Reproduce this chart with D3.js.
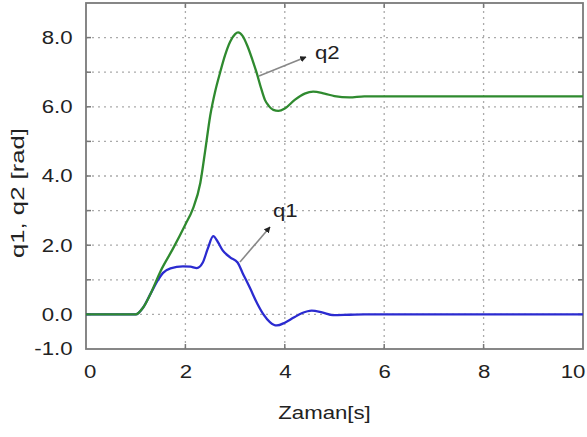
<!DOCTYPE html>
<html>
  <head>
    <meta charset="utf-8">
    <title>q1, q2</title>
    <style>
      body { margin: 0; background: #fff; }
      text { font-family: "Liberation Sans", Arial, sans-serif; fill: #222; }
      .grid line { stroke: #aaa; stroke-width: 1.3px; stroke-dasharray: 2,4; }
      .tick-mark { stroke: #777; stroke-width: 1.5px; }
    </style>
    <script src="https://cdn.jsdelivr.net/npm/d3@7"></script>
  </head>
  <body>
  <script type="text/javascript">
    // values
    var xTicks = [0, 2, 4, 6, 8, 10];
    var yTicks = [-1, 0, 2, 4, 6, 8];
    var yLabels = ["-1.0", "0.0", "2.0", "4.0", "6.0", "8.0"];
    var yGrid = [0, 1, 2, 3, 4, 5, 6, 7, 8];
    var xGrid = [2, 4, 6, 8];

    var q2Time = [0, 1.0, 1.15, 1.3, 1.5, 1.75, 2.0, 2.15, 2.3, 2.4, 2.5, 2.6, 2.7, 2.8, 2.9, 3.0, 3.06,
                  3.15, 3.25, 3.35, 3.43, 3.52, 3.6, 3.68, 3.77, 3.87, 4.0, 4.2, 4.4, 4.57, 4.8, 5.0, 5.3, 5.6, 6.0, 10];
    var q2Vals = [0, 0, 0.2, 0.6, 1.25, 1.9, 2.6, 3.05, 3.8, 4.75, 5.75, 6.45, 7.0, 7.5, 7.88, 8.1, 8.15,
                  8.05, 7.75, 7.35, 7.0, 6.55, 6.2, 6.02, 5.91, 5.88, 5.95, 6.2, 6.38, 6.44, 6.38, 6.31, 6.27, 6.3, 6.3, 6.3];

    var q1Time = [0, 1.0, 1.15, 1.3, 1.45, 1.55, 1.7, 1.95, 2.1, 2.23, 2.35, 2.45, 2.56, 2.65, 2.75, 2.9, 3.05,
                  3.15, 3.3, 3.45, 3.57, 3.7, 3.84, 4.0, 4.17, 4.35, 4.54, 4.75, 4.97, 5.3, 5.6, 10];
    var q1Vals = [0, 0, 0.2, 0.6, 1.0, 1.2, 1.33, 1.39, 1.38, 1.34, 1.5, 1.9, 2.26, 2.1, 1.85, 1.65, 1.5,
                  1.2, 0.76, 0.3, 0.0, -0.22, -0.32, -0.24, -0.1, 0.04, 0.11, 0.06, -0.02, -0.01, 0, 0];

    var width = 587;
    var height = 437;
    var margin = {left: 86, right: 4, top: 3, bottom: 88};
    var fs = "18.5px";
    var sx = 1.2; // the original's lettering is a bit wide

    var svg = d3.select("body")
                .append("svg")
                .attr("width", width)
                .attr("height", height);

    var x = d3.scaleLinear().domain([0, 10]).range([margin.left, width - margin.right]);
    var y = d3.scaleLinear().domain([-1, 9]).range([height - margin.bottom, margin.top]);

    // grid
    var grid = svg.append("g").attr("class", "grid");
    grid.selectAll(".gy").data(yGrid).enter().append("line")
        .attr("x1", x(0)).attr("x2", x(10))
        .attr("y1", function(d){ return y(d); }).attr("y2", function(d){ return y(d); });
    grid.selectAll(".gx").data(xGrid).enter().append("line")
        .attr("y1", y(-1)).attr("y2", y(9))
        .attr("x1", function(d){ return x(d); }).attr("x2", function(d){ return x(d); });

    // small inward ticks on all four sides
    var tk = svg.append("g");
    yGrid.forEach(function(d){
      tk.append("line").attr("class", "tick-mark").attr("x1", x(0)).attr("x2", x(0) + 5).attr("y1", y(d)).attr("y2", y(d));
      tk.append("line").attr("class", "tick-mark").attr("x1", x(10)).attr("x2", x(10) - 5).attr("y1", y(d)).attr("y2", y(d));
    });
    xGrid.forEach(function(d){
      tk.append("line").attr("class", "tick-mark").attr("x1", x(d)).attr("x2", x(d)).attr("y1", y(-1)).attr("y2", y(-1) - 5);
      tk.append("line").attr("class", "tick-mark").attr("x1", x(d)).attr("x2", x(d)).attr("y1", y(9)).attr("y2", y(9) + 5);
    });

    // axes (labels only, frame drawn separately)
    var xAxis = svg.append("g")
        .attr("transform", "translate(0," + y(-1) + ")")
        .call(d3.axisBottom(x).tickValues(xTicks).tickSize(0).tickPadding(16));
    xAxis.select(".domain").remove();
    xAxis.selectAll("text").style("font-size", fs).attr("fill", "#222")
         .attr("transform", "scale(" + sx + ",1)");
    xAxis.selectAll(".tick").filter(function(d){ return d === 0; }).select("text").attr("dx", 3);
    xAxis.selectAll(".tick").filter(function(d){ return d === 10; }).select("text").attr("text-anchor", "end").attr("dx", 1.5);

    var yAxis = svg.append("g")
        .attr("transform", "translate(" + x(0) + ",0)")
        .call(d3.axisLeft(y).tickValues(yTicks).tickSize(0)
          .tickFormat(function(d, i){ return yLabels[i]; }));
    yAxis.select(".domain").remove();
    yAxis.selectAll("text").style("font-size", fs).attr("fill", "#222")
         .attr("x", -13.5 / sx).attr("transform", "scale(" + sx + ",1)");

    // frame
    svg.append("rect")
       .attr("x", x(0)).attr("y", y(9))
       .attr("width", x(10) - x(0)).attr("height", y(-1) - y(9))
       .attr("fill", "none").attr("stroke", "#7a7a7a").attr("stroke-width", 1.8);

    // curves
    var line = d3.line().curve(d3.curveMonotoneX);
    var q1Pts = q1Time.map(function(t, i){ return [x(t), y(q1Vals[i])]; });
    var q2Pts = q2Time.map(function(t, i){ return [x(t), y(q2Vals[i])]; });

    svg.append("path").attr("d", line(q1Pts))
       .attr("fill", "none").attr("stroke", "#2b2bd0").attr("stroke-width", 2.3);
    svg.append("path").attr("d", line(q2Pts))
       .attr("fill", "none").attr("stroke", "#2f8a2f").attr("stroke-width", 2.3);

    // annotations
    svg.append("defs").append("marker")
       .attr("id", "arr").attr("viewBox", "0 0 10 10").attr("refX", 9).attr("refY", 5)
       .attr("markerWidth", 4).attr("markerHeight", 4).attr("orient", "auto")
       .append("path").attr("d", "M0,0L10,5L0,10z").attr("fill", "#222");

    function label(px, py, txt, anchor, rot, stretch) {
      svg.append("text")
         .attr("transform", "translate(" + px + "," + py + ")" + (rot ? " rotate(" + rot + ")" : "") + " scale(" + stretch + ",1)")
         .attr("text-anchor", anchor)
         .style("font-size", fs).text(txt);
    }

    svg.append("line").attr("x1", 259).attr("y1", 76).attr("x2", 306).attr("y2", 57)
       .attr("stroke", "#888").attr("stroke-width", 1.6).attr("marker-end", "url(#arr)");
    label(315, 59, "q2", "start", 0, sx);

    svg.append("line").attr("x1", 240).attr("y1", 262).attr("x2", 270).attr("y2", 227)
       .attr("stroke", "#888").attr("stroke-width", 1.6).attr("marker-end", "url(#arr)");
    label(273, 217, "q1", "start", 0, sx);

    // axis titles
    label(324.5, 419, "Zaman[s]", "middle", 0, sx);
    label(24, 193, "q1, q2 [rad]", "middle", -90, 1.39);
  </script>
  </body>
</html>
